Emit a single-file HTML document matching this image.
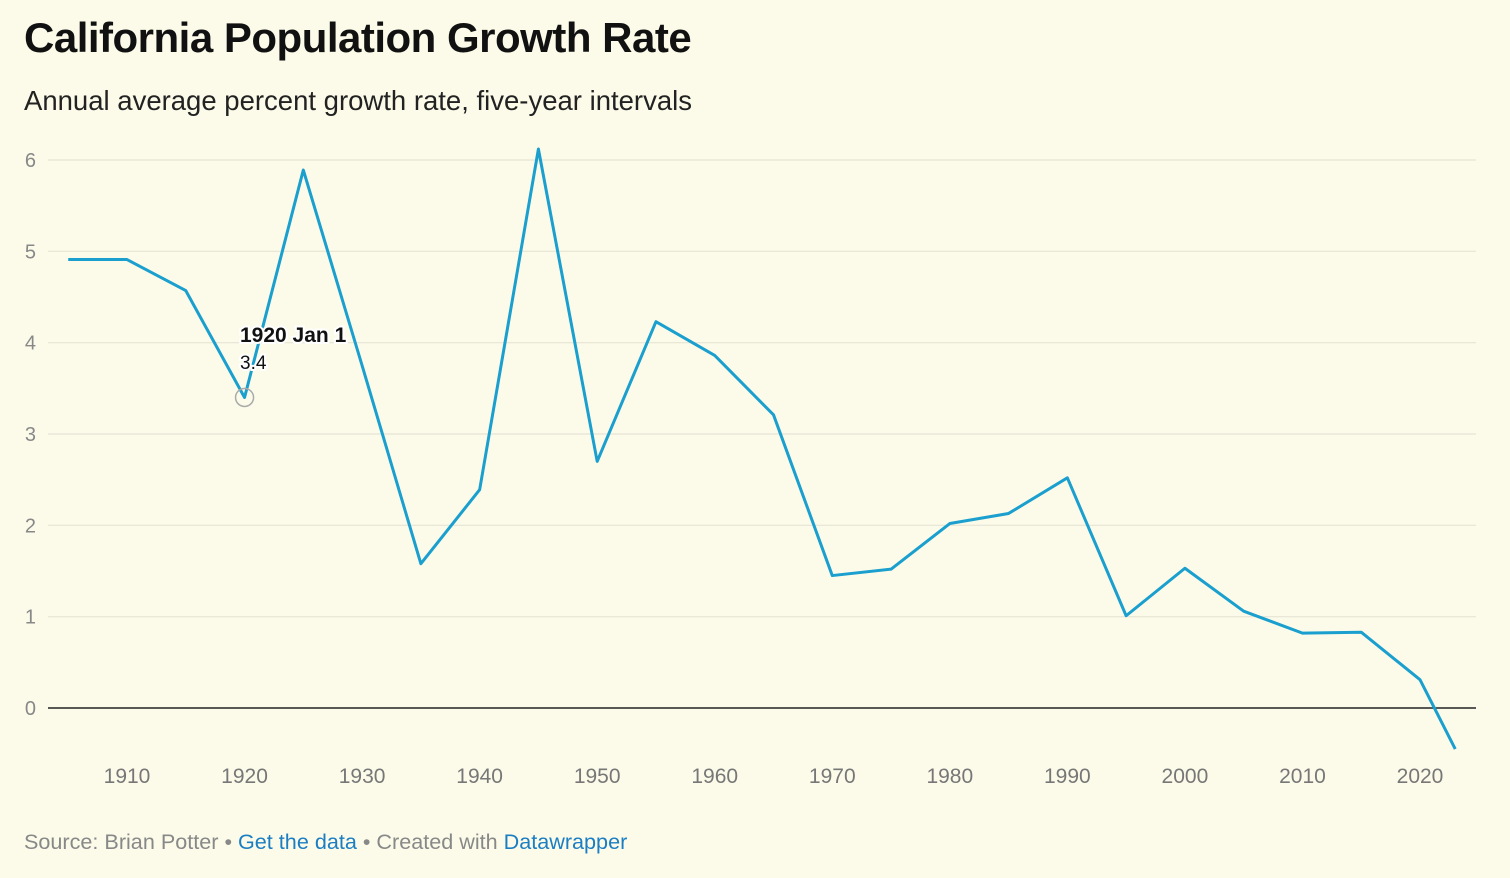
<!DOCTYPE html>
<html><head><meta charset="utf-8">
<style>
body{margin:0;width:1510px;height:878px;background:#fcfbe9;font-family:"Liberation Sans",sans-serif;overflow:hidden;position:relative}
h1{position:absolute;left:24px;top:14px;margin:0;font-size:42px;font-weight:bold;color:#111;letter-spacing:-0.5px}
.sub{position:absolute;left:24px;top:85px;font-size:27.5px;color:#222}
.foot{position:absolute;left:24px;top:829px;font-size:21.6px;color:#888}
.foot a{color:#1b7ec2;text-decoration:none}
svg{position:absolute;left:0;top:0}
</style></head><body>
<h1>California Population Growth Rate</h1>
<div class="sub">Annual average percent growth rate, five-year intervals</div>
<svg id="chart" width="1510" height="878"></svg>
<div class="foot">Source: Brian Potter • <a>Get the data</a> • Created with <a>Datawrapper</a></div>
<script>
const years=[1905,1910,1915,1920,1925,1930,1935,1940,1945,1950,1955,1960,1965,1970,1975,1980,1985,1990,1995,2000,2005,2010,2015,2020,2023];
const rates=[4.91,4.91,4.57,3.4,5.89,3.75,1.58,2.39,6.12,2.7,4.23,3.86,3.21,1.45,1.52,2.02,2.13,2.52,1.01,1.53,1.06,0.82,0.83,0.31,-0.45];
const yTicks=[0,1,2,3,4,5,6];
const xTicks=[1910,1920,1930,1940,1950,1960,1970,1980,1990,2000,2010,2020];
const svg=document.getElementById('chart');const NS='http://www.w3.org/2000/svg';
const x=v=>127+(v-1910)*(1420-127)/110;
const y=v=>708-v*(708-160)/6;
function mk(t,a){const e=document.createElementNS(NS,t);for(const k in a)e.setAttribute(k,a[k]);svg.appendChild(e);return e;}
yTicks.forEach(t=>{
 const l=mk('line',{x1:48,x2:1476,y1:y(t),y2:y(t),stroke:t===0?'#222':'#e6e4d6','stroke-width':t===0?1.5:1.2});
 
 
 const tx=mk('text',{x:36,y:y(t)+7,'text-anchor':'end','font-size':20,fill:'#888','font-family':'Liberation Sans'});tx.textContent=t;
 
 
});
xTicks.forEach(t=>{
 const tx=mk('text',{x:x(t),y:783,'text-anchor':'middle','font-size':21,fill:'#777','font-family':'Liberation Sans'});tx.textContent=t;
 
 
});
const p=mk('polyline',{points:years.map((d,i)=>x(d)+','+y(rates[i])).join(' '),fill:'none',stroke:'#1a9fce','stroke-width':3,'stroke-linejoin':'round'});


const c=mk('circle',{cx:x(1920),cy:y(3.4),r:9,fill:'none',stroke:'#aaa','stroke-width':1.5});


const t1=mk('text',{x:240,y:342,'font-size':21,'font-weight':'bold',fill:'#111',stroke:'#fff','stroke-width':4,'paint-order':'stroke','font-family':'Liberation Sans'});t1.textContent='1920 Jan 1';


const t2=mk('text',{x:240,y:369,'font-size':19,fill:'#111',stroke:'#fff','stroke-width':4,'paint-order':'stroke','font-family':'Liberation Sans'});t2.textContent='3.4';


</script>
</body></html>
